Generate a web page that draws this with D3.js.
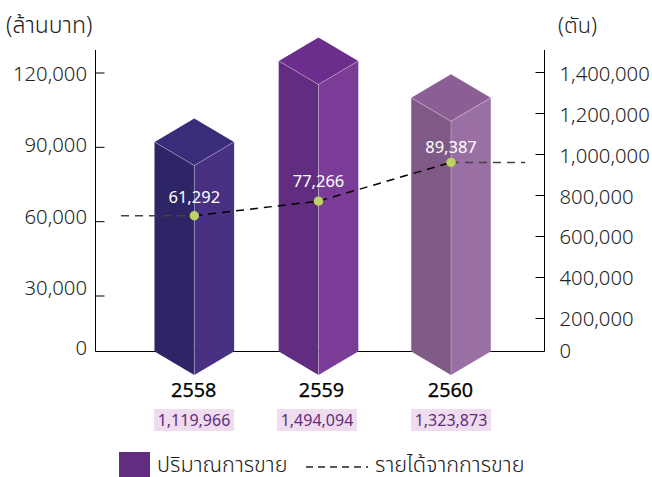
<!DOCTYPE html>
<html><head><meta charset="utf-8">
<script src="https://cdn.jsdelivr.net/npm/d3@7/dist/d3.min.js"></script>
<style>
html,body{margin:0;padding:0;background:#fff}
svg{display:block}
text{font-family:"Noto Sans","Noto Sans Thai","Open Sans",sans-serif}
</style></head><body>
<svg id="c" width="652" height="477"></svg>
<script>
const years = [2558, 2559, 2560];
const salesVolume = [1119966, 1494094, 1323873];
const revenue = [61292, 77266, 89387];
// level at which the reference draws each revenue point, read against the right axis
const revenueLevel = [699000, 770000, 959000];
const leftTicks = [30000, 60000, 90000, 120000];
const rightTicks = [200000, 400000, 600000, 800000, 1000000, 1200000, 1400000];
const leftTickLabels = [0, 30000, 60000, 90000, 120000];
const rightTickLabels = [0, 200000, 400000, 600000, 800000, 1000000, 1200000, 1400000];
const leftUnit = "(ล้านบาท)";
const rightUnit = "(ตัน)";
const legendBar = "ปริมาณการขาย";
const legendLine = "รายได้จากการขาย";
const faceLeft = ["#2d2566", "#622d80", "#7f5a87"];
const faceRight = ["#483082", "#7a3c96", "#9a6fa4"];
const faceTop = ["#392c7a", "#6b2e8c", "#8b5f96"];

const fmt = d3.format(",");
const svg = d3.select("#c");
const baseY = 351.5, axisTop = 50, halfW = 39.7, rise = 23.5;

const x = d3.scaleLinear().domain([2558, 2559, 2560]).range([194.3, 318.5, 451]);
const xCategory = d3.scaleLinear().domain([2558, 2559, 2560]).range([193.7, 321.5, 450.5]);
const xVolume = d3.scaleLinear().domain([2558, 2559, 2560]).range([194, 317, 451]);
const yLeft = d3.scaleLinear().domain([30000, 120000]).range([295.5, 72.5]);
const yRight = d3.scaleLinear().domain([200000, 1400000]).range([318, 72]);
const yBar = d3.scaleLinear().domain([0, 1500000]).range([384.5, 59.7]);
// tick labels in the reference sit at their own spacing, not on the tick marks
const leftLabelY = d3.scaleLinear().domain([0, 30000, 60000, 90000, 120000]).range([348, 288, 217, 145, 74]);
const rightLabelY = d3.scaleLinear().domain([0, 200000, 1400000]).range([351, 319, 74]);
const pointLabelY = d3.scaleLinear().domain(revenue).range([203, 187, 152.5]);

// bars
const bars = svg.append("g");
years.forEach((yr, i) => {
  const cx = x(yr), t = yBar(salesVolume[i]);
  const g = bars.append("g");
  const poly = (pts, fill) => g.append("polygon").attr("points", pts.map(p => p.join(",")).join(" ")).attr("fill", fill);
  poly([[cx - halfW, t], [cx, t + rise], [cx, baseY + rise], [cx - halfW, baseY]], faceLeft[i]);
  poly([[cx, t + rise], [cx + halfW, t], [cx + halfW, baseY], [cx, baseY + rise]], faceRight[i]);
  poly([[cx - halfW, t], [cx, t - rise], [cx + halfW, t], [cx, t + rise]], faceTop[i]);
  g.append("path").attr("fill", "none").attr("stroke", "#fff").attr("stroke-opacity", .3).attr("stroke-width", 1)
    .attr("d", `M${cx - halfW},${t}L${cx},${t + rise}L${cx + halfW},${t}M${cx},${t + rise}V${baseY + rise}`);
  g.append("path").attr("fill", "none").attr("stroke", faceRight[i]).attr("stroke-opacity", .25).attr("stroke-width", 1)
    .attr("d", `M${cx - halfW},${t}V${baseY}M${cx + halfW},${t}V${baseY}`);
});

// baseline and axes (drawn behind the bars' footprint)
const axes = svg.insert("g", ":first-child");
axes.append("path").attr("d", `M95.5,${axisTop}V${baseY}H544.5V${axisTop}`).attr("fill", "none").attr("stroke", "#000").attr("stroke-width", 1);
axes.append("g").attr("transform", "translate(95.5,0)")
  .call(d3.axisRight(yLeft).tickValues(leftTicks).tickSize(9).tickFormat(""))
  .call(s => { s.select(".domain").remove(); s.selectAll("line").attr("stroke", "#000"); });
axes.append("g").attr("transform", "translate(544.5,0)")
  .call(d3.axisLeft(yRight).tickValues(rightTicks).tickSize(9).tickFormat(""))
  .call(s => { s.select(".domain").remove(); s.selectAll("line").attr("stroke", "#000"); });

// tick labels
svg.append("g").selectAll("text").data(leftTickLabels).join("text")
  .attr("x", 87).attr("y", d => leftLabelY(d)).attr("dy", ".35em").attr("text-anchor", "end")
  .attr("font-size", 20.3).attr("font-weight", 300).attr("fill", "#222").text(fmt);
svg.append("g").selectAll("text").data(rightTickLabels).join("text")
  .attr("x", 559.5).attr("y", d => rightLabelY(d)).attr("dy", ".35em")
  .attr("font-size", 20.3).attr("font-weight", 300).attr("fill", "#222").text(fmt);
svg.append("text").attr("x", 6).attr("y", 33).attr("font-size", 23).attr("font-weight", 300).attr("fill", "#222").text(leftUnit);
svg.append("text").attr("x", 558).attr("y", 33).attr("font-size", 21.7).attr("font-weight", 300).attr("fill", "#222").text(rightUnit);

// line
const pts = years.map((yr, i) => [x(yr), yRight(revenueLevel[i])]);
const lineGen = d3.line();
const dash = "8,6";
svg.append("path").attr("d", lineGen(pts)).attr("fill", "none").attr("stroke", "#000").attr("stroke-width", 1.5).attr("stroke-dasharray", dash);
const stubL = [[x(2557.41), pts[0][1]], pts[0]], stubR = [pts[2], [x(2560.56), pts[2][1]]];
[stubL, stubR].forEach(s => svg.append("path").attr("d", lineGen(s)).attr("fill", "none").attr("stroke", "#444").attr("stroke-width", 1.5).attr("stroke-dasharray", dash));
svg.append("g").selectAll("circle").data(pts).join("circle")
  .attr("cx", d => d[0]).attr("cy", d => d[1]).attr("r", 4.7).attr("fill", "#bcd262");
svg.append("g").selectAll("text").data(revenue).join("text")
  .attr("x", (d, i) => pts[i][0]).attr("y", d => pointLabelY(d)).attr("text-anchor", "middle")
  .attr("font-size", 16.5).attr("fill", "#fff").text(fmt);

// categories
svg.append("g").selectAll("text").data(years).join("text")
  .attr("x", d => xCategory(d)).attr("y", 397).attr("text-anchor", "middle")
  .attr("font-size", 19.8).attr("font-weight", 400).attr("stroke", "#000").attr("stroke-width", .25).attr("fill", "#000").text(d => d);
const vol = svg.append("g").selectAll("g").data(salesVolume).join("g");
vol.append("rect").attr("x", (d, i) => xVolume(years[i]) - 40).attr("y", 409).attr("width", 80).attr("height", 22).attr("fill", "#efdcee");
vol.append("text").attr("x", (d, i) => xVolume(years[i])).attr("y", 425.5).attr("text-anchor", "middle")
  .attr("font-size", 16).attr("font-weight", 400).attr("fill", "#5f2d82").text(fmt);

// legend
svg.append("rect").attr("x", 119).attr("y", 452).attr("width", 31).attr("height", 25).attr("fill", "#622d80");
svg.append("text").attr("x", 157).attr("y", 472).attr("font-size", 21.7).attr("font-weight", 300).attr("fill", "#222").text(legendBar);
svg.append("path").attr("d", "M306,467H368").attr("stroke", "#222").attr("stroke-width", 1.3).attr("stroke-dasharray", "7,5").attr("fill", "none");
svg.append("text").attr("x", 375).attr("y", 472).attr("font-size", 21.7).attr("font-weight", 300).attr("fill", "#222").text(legendLine);
</script></body></html>
